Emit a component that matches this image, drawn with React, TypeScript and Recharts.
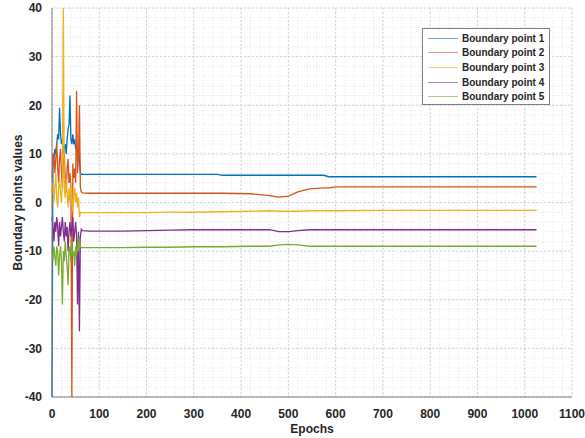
import { LineChart, Line, XAxis, YAxis, CartesianGrid } from 'recharts';

// epochs sampled every 2 during the noisy start, then sparse on the flat part
const earlyEpochs = [
  0, 2, 4, 6, 8, 10, 12, 14, 16, 18, 20, 22, 24, 26, 28, 30, 32, 34, 36, 38, 40,
  42, 44, 46, 48, 50, 52, 54, 56, 58, 60, 62, 64,
];
const lateEpochs = [
  80, 150, 200, 250, 300, 350, 360, 420, 460, 480, 500, 520, 545, 575, 585, 602,
  700, 800, 900, 1000, 1025,
];

const point1Early = [
  -40, 10, 9, 11, 10, 12, 14, 13, 19.5, 14, 12, 13, 10, 11, 12, 10, 13, 15, 16,
  22, 13, 12, 14, 12, 13, 11, 12, 10, 11, 9, 6, 5.8, 5.8,
];
const point1Late = [
  5.8, 5.8, 5.8, 5.8, 5.8, 5.8, 5.6, 5.6, 5.6, 5.6, 5.6, 5.6, 5.6, 5.6, 5.3, 5.3,
  5.3, 5.3, 5.3, 5.3, 5.3,
];

const point2Early = [
  5, 8, 10, 6, 9, 12, 7, 4, 9, 11, 6, 3, 8, 10, 5, 2, 7, 9, 4, 6, 3, -40, 8, 5,
  7, 4, 23, 6, 9, 20, 3, 2.2, 2.0,
];
const point2Late = [
  1.9, 1.9, 1.9, 1.9, 1.9, 1.9, 1.9, 1.8, 1.4, 1.1, 1.3, 2.2, 2.8, 3.0, 3.0, 3.2,
  3.2, 3.2, 3.2, 3.2, 3.2,
];

const point3Early = [
  2, 4, 0, 3, 6, 1, -1, 3, 5, 2, 0, 4, 40, 3, 1, 5, 2, -1, 3, 0, 4, 2, -2, 1, 3,
  0, 2, -1, 1, -3, -2, -2.1, -2.1,
];
const point3Late = [
  -2.1, -2.1, -2.1, -2.0, -2.0, -1.9, -1.9, -1.8, -1.7, -1.8, -1.8, -1.8, -1.7,
  -1.7, -1.7, -1.7, -1.6, -1.6, -1.6, -1.6, -1.6,
];

const point4Early = [
  -3, -5, -8, -4, -6, -3, -5, -9, -4, -7, -5, -3, -6, -8, -4, -7, -5, -10, -6, -4,
  -7, -5, -3, -8, -6, -4, -7, -21, -6, -26.5, -7, -5.5, -5.8,
];
const point4Late = [
  -5.9, -5.9, -5.8, -5.7, -5.6, -5.6, -5.6, -5.6, -5.6, -6.0, -6.0, -5.8, -5.6,
  -5.6, -5.6, -5.6, -5.6, -5.6, -5.6, -5.6, -5.6,
];

const point5Early = [
  -10, -12, -9, -11, -13, -9, -10, -15, -11, -9, -12, -21, -10, -12, -8, -11, -13,
  -17, -10, -9, -12, -8, -11, -10, -13, -9, -11, -8, -10, -7, -9, -9.3, -9.3,
];
const point5Late = [
  -9.3, -9.3, -9.2, -9.2, -9.1, -9.1, -9.1, -9.0, -9.0, -8.7, -8.6, -8.7, -9.0,
  -9.0, -9.0, -9.0, -9.0, -9.0, -9.0, -9.0, -9.0,
];

const xTicks = [0, 100, 200, 300, 400, 500, 600, 700, 800, 900, 1000, 1100];
const yTicks = [-40, -30, -20, -10, 0, 10, 20, 30, 40];
const minorX = Array.from({ length: 56 }, (_, i) => i * 20);
const minorY = Array.from({ length: 41 }, (_, i) => -40 + i * 2);

const series = [
  { key: 'p1', name: 'Boundary point 1', color: '#0072BD' },
  { key: 'p2', name: 'Boundary point 2', color: '#D95319' },
  { key: 'p3', name: 'Boundary point 3', color: '#EDB120' },
  { key: 'p4', name: 'Boundary point 4', color: '#7E2F8E' },
  { key: 'p5', name: 'Boundary point 5', color: '#77AC30' },
];

const epochs = [...earlyEpochs, ...lateEpochs];
const p1 = [...point1Early, ...point1Late];
const p2 = [...point2Early, ...point2Late];
const p3 = [...point3Early, ...point3Late];
const p4 = [...point4Early, ...point4Late];
const p5 = [...point5Early, ...point5Late];

const data = epochs.map((epoch, i) => ({
  epoch,
  p1: p1[i],
  p2: p2[i],
  p3: p3[i],
  p4: p4[i],
  p5: p5[i],
}));

const FONT = '"Liberation Sans", Arial, sans-serif';
const tickStyle = { fontSize: 12, fontWeight: 700, fill: '#262626', fontFamily: FONT };

export default function App() {
  return (
    <div style={{ position: 'absolute', left: 0, top: 0, width: 585, height: 438, background: '#fff' }}>
      <LineChart
        width={585}
        height={438}
        data={data}
        margin={{ top: 8, right: 13, bottom: 0, left: 0 }}
      >
        <CartesianGrid
          stroke="#e6e6e6"
          strokeDasharray="1 2"
          verticalCoordinatesGenerator={({ offset }: any) =>
            minorX.map((v) => offset.left + (v / 1100) * offset.width)
          }
          horizontalCoordinatesGenerator={({ offset }: any) =>
            minorY.map((v) => offset.top + ((40 - v) / 80) * offset.height)
          }
        />
        <CartesianGrid stroke="#d4d4d4" strokeDasharray="2 2" />
        <XAxis
          dataKey="epoch"
          type="number"
          domain={[0, 1100]}
          ticks={xTicks}
          interval={0}
          height={41}
          tickLine={false}
          tickMargin={6}
          axisLine={{ stroke: '#7f7f7f' }}
          tick={tickStyle}
          label={{
            value: 'Epochs',
            position: 'insideBottom',
            offset: 5,
            style: { fontSize: 12, fontWeight: 700, fill: '#262626', fontFamily: FONT },
          }}
        />
        <XAxis
          xAxisId="top"
          orientation="top"
          dataKey="epoch"
          type="number"
          domain={[0, 1100]}
          height={0}
          tick={false}
          tickLine={false}
          axisLine={{ stroke: '#7f7f7f' }}
        />
        <YAxis
          type="number"
          domain={[-40, 40]}
          ticks={yTicks}
          interval={0}
          width={52}
          tickLine={false}
          tickMargin={4}
          axisLine={{ stroke: '#7f7f7f' }}
          tick={tickStyle}
          label={{
            value: 'Boundary points values',
            angle: -90,
            position: 'insideLeft',
            offset: 18,
            style: { textAnchor: 'middle', fontSize: 12, fontWeight: 700, fill: '#262626', fontFamily: FONT },
          }}
        />
        <YAxis
          yAxisId="right"
          orientation="right"
          domain={[-40, 40]}
          width={0}
          tick={false}
          tickLine={false}
          axisLine={{ stroke: '#7f7f7f' }}
        />
        {series.map((s) => (
          <Line
            key={s.key}
            type="linear"
            dataKey={s.key}
            name={s.name}
            stroke={s.color}
            strokeWidth={1.3}
            dot={false}
            activeDot={false}
            isAnimationActive={false}
          />
        ))}
      </LineChart>
      <div
        style={{
          position: 'absolute',
          left: 422,
          top: 28,
          width: 128,
          height: 77,
          border: '1px solid #7f7f7f',
          background: '#fff',
          padding: '2px 0 0 5px',
          boxSizing: 'border-box',
          fontFamily: FONT,
        }}
      >
        {series.map((s) => (
          <div key={s.key} style={{ display: 'flex', alignItems: 'center', height: 14.6 }}>
            <span style={{ width: 30, height: 0, borderTop: `1.5px solid ${s.color}`, marginRight: 4, opacity: 0.6 }} />
            <span style={{ fontSize: 10, fontWeight: 700, color: '#262626', whiteSpace: 'nowrap' }}>{s.name}</span>
          </div>
        ))}
      </div>
    </div>
  );
}
